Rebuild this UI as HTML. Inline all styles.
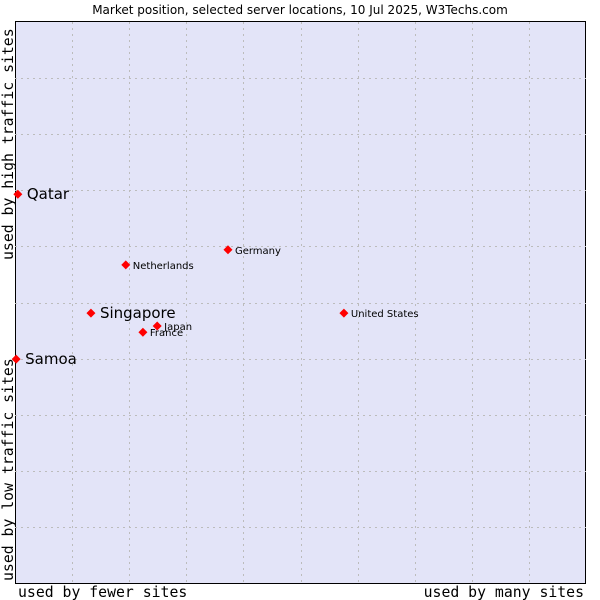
<!DOCTYPE html>
<html><head><meta charset="utf-8"><style>
body{margin:0;background:#fff;width:600px;height:600px;overflow:hidden}
svg{display:block}
</style></head><body>
<svg width="600" height="600">
<text x="300" y="14" text-anchor="middle" font-family="DejaVu Sans, sans-serif" font-size="12" fill="#000">Market position, selected server locations, 10 Jul 2025, W3Techs.com</text>
<rect x="15.5" y="21.5" width="570" height="562" fill="#e3e4f8" stroke="#000" stroke-width="1"/>
<g id="grid"></g>
<text x="18" y="597" font-family="DejaVu Sans Mono, monospace" font-size="14.8">used by fewer sites</text>
<text x="584" y="597" text-anchor="end" font-family="DejaVu Sans Mono, monospace" font-size="14.8">used by many sites</text>
<text transform="translate(13,581) rotate(-90)" font-family="DejaVu Sans Mono, monospace" font-size="14.8">used by low traffic sites</text>
<text transform="translate(13,260) rotate(-90)" font-family="DejaVu Sans Mono, monospace" font-size="14.8">used by high traffic sites</text>
<g id="points"></g>
</svg>
<script>
const labels=["Qatar","Samoa","Singapore","Netherlands","Germany","United States","Japan","France"];
const xValues=[0.05,0.02,1.33,1.94,3.73,5.76,2.49,2.24];
const yValues=[6.93,3.99,4.81,5.67,5.94,4.81,4.58,4.47];
const bigLabel=[true,true,true,false,false,false,false,false];
const NS="http://www.w3.org/2000/svg";
const X0=15,X1=586,Y0=583,Y1=22;
const sx=v=>X0+v/10*(X1-X0), sy=v=>Y0-v/10*(Y0-Y1);
const grid=document.getElementById('grid');
for(let i=1;i<10;i++){
  const l=document.createElementNS(NS,'line');
  
  
  const x=Math.round(sx(i))+0.5;
  l.setAttribute('x1',x);l.setAttribute('x2',x);l.setAttribute('y1',Y1);l.setAttribute('y2',Y0);
  l.setAttribute('stroke','#bcbcbc');l.setAttribute('stroke-dasharray','2,4');
  grid.appendChild(l);
  const h=document.createElementNS(NS,'line');
  
  
  const y=Math.round(sy(i))+0.5;
  h.setAttribute('x1',X0);h.setAttribute('x2',X1);h.setAttribute('y1',y);h.setAttribute('y2',y);
  h.setAttribute('stroke','#bcbcbc');h.setAttribute('stroke-dasharray','2,4');
  grid.appendChild(h);
}
const pts=document.getElementById('points');
labels.forEach((n,i)=>{
  const x=sx(xValues[i]),y=sy(yValues[i]);
  const d=document.createElementNS(NS,'path');
  
  
  d.setAttribute('d',`M${x} ${y-4.5}L${x+4.5} ${y}L${x} ${y+4.5}L${x-4.5} ${y}Z`);
  d.setAttribute('fill','#f00');
  pts.appendChild(d);
  const t=document.createElementNS(NS,'text');
  
  
  t.setAttribute('x',x+(bigLabel[i]?9:7));
  t.setAttribute('y',y+(bigLabel[i]?5:4));
  t.setAttribute('font-family','DejaVu Sans, sans-serif');
  t.setAttribute('font-size',bigLabel[i]?'15':'10');
  t.textContent=n;
  pts.appendChild(t);
});
</script>
</body></html>
